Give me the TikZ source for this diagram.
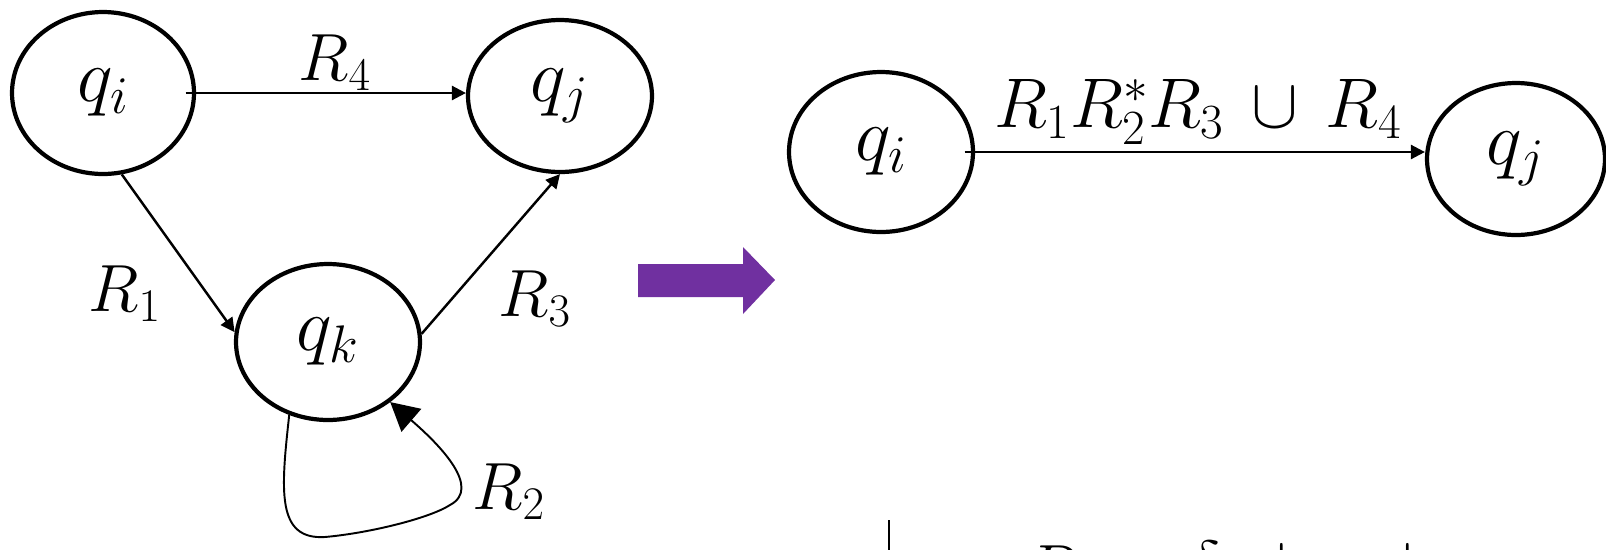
\RequirePackage{fix-cm}
\documentclass[tikz,border=0pt]{standalone}
\usetikzlibrary{shapes.geometric,arrows.meta}
\definecolor{arrowpurple}{HTML}{7030A0}
\begin{document}
\begin{tikzpicture}[x=0.02cm,y=-0.02cm,
 state/.style={draw,ellipse,line width=2.4pt,inner sep=0pt,font=\fontsize{43}{50}\selectfont},
 edge/.style={line width=1.4pt,-{Triangle[length=0.28cm,width=0.28cm]}},
 loopedge/.style={line width=1.1pt,-{Triangle[length=0.56cm,width=0.6cm]}},
 lbl/.style={font=\fontsize{38}{45}\selectfont,inner sep=0pt}]
\useasboundingbox (0,0) rectangle (1606,549);
% left graph
\node[state,minimum width=3.64cm,minimum height=3.24cm] (qi) at (103,93) {$q_i$};
\node[state,minimum width=3.68cm,minimum height=3.04cm] (qj) at (560,96) {$q_j$};
\node[state,minimum width=3.68cm,minimum height=3.12cm] (qk) at (328,342) {$q_k$};
\draw[edge] ([xshift=-6pt]qi.east) -- (qi.east -| qj.west);
\draw[edge] (qi.-77) -- (qk.174);
\draw[edge] (qk.5) -- (qj.-90);
\draw[loopedge] (qk.-118) .. controls (281,490) and (276,540) .. (325,537)
  .. controls (370,533) and (430,518) .. (450,505)
  .. controls (482,488) and (440,445) .. (qk.-44);
\node[lbl] (r4) at (335,63) {$R_4$};
\node[lbl] (r1) at (125,294) {$R_1$};
\node[lbl] (r3) at (535,299) {$R_3$};
\node[lbl] (r2) at (509,492) {$R_2$};
% purple arrow
\fill[arrowpurple] (638,264) -- (743,264) -- (743,247) -- (775,280) -- (743,314) -- (743,297) -- (638,297) -- cycle;
% right graph
\node[state,minimum width=3.68cm,minimum height=3.2cm] (qi2) at (881,152) {$q_i$};
\node[state,minimum width=3.56cm,minimum height=3.04cm] (qj2) at (1516,159) {$q_j$};
\draw[edge] ([xshift=-6pt]qi2.east) -- (qi2.east -| qj2.west);
\node[lbl,font=\fontsize{40}{47}\selectfont] (rr) at (1198,112) {$R_1R_2^*R_3\,\cup\,R_4$};
% cut-off bottom line
\draw[line width=1pt] (889,520) -- (889,570);
\node[lbl,anchor=base] (b1) at (1052,591) {$R$};
\node[lbl,anchor=base] (b2) at (1204,587) {$\delta$};
\node[lbl,anchor=base] (b3) at (1282,593) {$|$};
\node[lbl,anchor=base] (b4) at (1408,593) {$|$};
\end{tikzpicture}
\end{document}
